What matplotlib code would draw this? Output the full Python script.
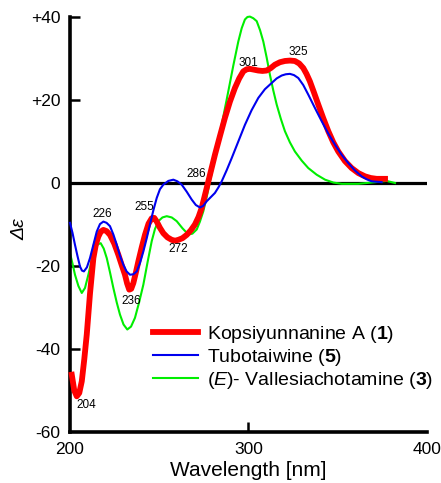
import matplotlib
matplotlib.use("Agg")
import matplotlib.pyplot as plt

plt.rcParams["font.family"] = ["Liberation Sans", "DejaVu Sans"]
plt.rcParams["mathtext.fontset"] = "custom"
plt.rcParams["mathtext.rm"] = "Liberation Sans"
plt.rcParams["mathtext.it"] = "Liberation Sans:italic"
plt.rcParams["mathtext.bf"] = "Liberation Sans:bold"

# Kopsiyunnanine A (1)
red_wl = [201.0, 202.4, 203.8, 205.2, 206.6, 208.0, 209.4, 211.2, 213.1, 214.5,
          215.9, 217.3, 218.7, 220.5, 222.4, 224.8, 227.1, 229.0, 230.8, 232.0,
          233.2, 234.3, 235.5, 236.9, 238.3, 240.2, 242.0, 244.0, 245.8, 247.2,
          248.6, 250.4, 252.3, 254.6, 257.0, 258.9, 260.7, 263.0, 265.4, 267.7,
          270.0, 272.0, 273.8, 276.6, 278.9, 281.2, 284.0, 286.8, 289.6, 292.4,
          294.8, 297.1, 299.0, 300.8, 303.2, 305.5, 307.8, 310.2, 312.5, 314.8,
          317.6, 320.4, 323.2, 326.0, 328.4, 330.7, 332.5, 334.4, 336.7, 339.1,
          341.9, 344.7, 347.5, 350.3, 354.0, 357.8, 361.5, 365.3, 368.5, 371.8,
          376.5]
red_de = [-46.2, -50.0, -51.4, -50.6, -47.8, -42.5, -36.5, -26.7, -18.1, -14.8,
          -12.9, -11.7, -11.3, -11.6, -12.5, -14.6, -17.3, -19.8, -22.1, -24.2,
          -25.7, -25.5, -24.1, -21.6, -18.9, -15.5, -12.5, -9.8, -8.5, -8.4,
          -9.3, -10.8, -12.1, -13.1, -13.7, -13.9, -13.7, -13.3, -12.5, -11.4,
          -10.0, -8.2, -6.0, -1.2, 2.8, 6.8, 11.3, 15.7, 19.6, 22.9,
          25.2, 26.9, 27.4, 27.5, 27.3, 27.1, 27.0, 27.1, 27.7, 28.5,
          29.1, 29.4, 29.5, 29.4, 28.8, 27.7, 26.3, 24.5, 21.8, 18.9,
          15.6, 12.5, 9.8, 7.6, 5.3, 3.6, 2.4, 1.6, 1.2, 1.0,
          1.0]

# Tubotaiwine (5)
blue_wl = [200.0, 201.4, 202.8, 204.2, 205.6, 206.7, 207.8, 209.5, 211.2, 213.1,
           215.0, 216.8, 218.7, 220.5, 222.4, 224.3, 226.2, 228.0, 229.9, 231.7,
           233.6, 235.5, 237.4, 239.2, 241.1, 243.0, 244.8, 246.7, 248.6, 250.4,
           252.3, 255.1, 257.9, 260.2, 262.6, 265.4, 268.2, 270.5, 272.8, 274.7,
           276.6, 278.9, 281.2, 283.1, 285.0, 287.8, 290.6, 294.3, 298.0, 301.7,
           305.5, 309.2, 313.0, 315.8, 318.6, 320.9, 323.2, 325.5, 327.9, 330.7,
           333.5, 337.2, 341.0, 344.7, 348.5, 352.2, 355.9, 359.7, 363.4, 366.2,
           369.0, 374.6]
blue_de = [-9.6, -12.0, -14.9, -17.6, -20.1, -21.1, -21.3, -20.3, -18.1, -14.9,
           -11.7, -9.9, -9.3, -9.6, -10.4, -12.4, -14.9, -17.5, -19.7, -21.3,
           -22.1, -22.0, -21.3, -19.3, -16.5, -13.3, -10.0, -6.6, -3.6, -1.5,
           -0.4, 0.5, 0.8, 0.4, -0.4, -2.1, -4.0, -5.3, -5.9, -5.5,
           -4.4, -3.4, -2.4, -1.1, 0.4, 3.1, 6.0, 10.0, 14.0, 17.5,
           20.5, 22.6, 24.1, 25.2, 25.9, 26.2, 26.3, 26.0, 25.3, 23.6,
           21.3, 18.1, 14.9, 11.9, 9.2, 6.8, 4.8, 3.0, 1.6, 0.9,
           0.4, 0.2]

# (E)-Vallesiachotamine (3)
green_wl = [200.0, 201.4, 202.8, 204.7, 206.6, 208.4, 210.3, 212.1, 214.0, 215.6,
            217.2, 218.9, 220.6, 222.4, 224.3, 226.2, 228.0, 230.0, 232.1, 234.2,
            236.4, 238.7, 241.1, 243.5, 245.8, 247.6, 249.5, 251.8, 254.2, 257.0,
            259.8, 263.0, 266.3, 268.6, 271.0, 272.8, 274.7, 276.6, 278.4, 280.8,
            283.1, 285.9, 288.7, 291.5, 294.3, 296.2, 298.0, 299.4, 300.8, 302.7,
            304.6, 306.5, 308.3, 310.2, 312.0, 313.9, 315.8, 318.1, 320.4, 323.2,
            326.0, 329.8, 333.5, 338.2, 342.9, 347.6, 352.3, 361.5, 370.9, 377.4,
            382.1]
green_de = [-16.9, -19.4, -22.1, -24.8, -26.5, -25.3, -22.1, -18.7, -16.1, -14.8,
            -14.5, -15.8, -18.1, -21.5, -25.3, -28.8, -31.7, -34.1, -35.3, -34.6,
            -32.5, -28.8, -24.5, -19.0, -14.0, -11.1, -9.2, -8.3, -8.0, -8.3,
            -9.2, -10.9, -12.4, -12.2, -11.2, -9.3, -6.8, -3.3, 0.4, 5.2,
            10.0, 16.0, 22.1, 28.3, 34.1, 37.3, 39.4, 40.0, 40.1, 39.7,
            39.0, 36.8, 34.1, 30.2, 26.1, 22.3, 18.9, 15.5, 12.5, 9.8,
            7.6, 5.4, 3.6, 2.0, 0.8, 0.1, -0.2, -0.2, 0.2, 0.5,
            0.0]

labels = ["Kopsiyunnanine A ($\\mathbf{1}$)",
          "Tubotaiwine ($\\mathbf{5}$)",
          "($\\mathit{E}$)- Vallesiachotamine ($\\mathbf{3}$)"]

xticks = [200, 300, 400]
yticks = [-60, -40, -20, 0, 20, 40]
ytick_labels = ["-60", "-40", "-20", "0", "+20", "+40"]

# peak labels: text, x, y
peaks = ["204", "226", "236", "255", "272", "286", "301", "325"]
peak_x = [209.0, 217.9, 234.2, 241.5, 260.5, 270.6, 299.7, 327.7]
peak_y = [-53.5, -7.5, -28.4, -5.8, -15.9, 2.2, 28.9, 31.6]

fig = plt.figure(figsize=(4.41, 4.83), dpi=100)
ax = fig.add_axes([0.1587, 0.1056, 0.8095, 0.8592])

ax.axhline(0, color="black", lw=2.3, zorder=1)
ax.plot(red_wl, red_de, color="#ff0000", lw=4.2, label=labels[0], zorder=3,
        solid_joinstyle="round", clip_on=False)
ax.plot(blue_wl, blue_de, color="#0000ee", lw=1.5, label=labels[1], zorder=4,
        solid_joinstyle="round", clip_on=False)
ax.plot(green_wl, green_de, color="#00ee00", lw=1.5, label=labels[2], zorder=2,
        solid_joinstyle="round", clip_on=False)

for t, x, y in zip(peaks, peak_x, peak_y):
    ax.text(x, y, t, fontsize=8.5, ha="center", va="center", zorder=5)

ax.set_xlim(200, 400)
ax.set_ylim(-60, 40)
for s in ["top", "right"]:
    ax.spines[s].set_visible(False)
for s in ["left", "bottom"]:
    ax.spines[s].set_linewidth(2.6)
ax.set_xticks(xticks)
ax.set_yticks(yticks)
ax.set_yticklabels(ytick_labels)
ax.tick_params(direction="in", length=7, width=1.8, labelsize=12.5, pad=7)
ax.xaxis.get_major_ticks()[0].tick1line.set_visible(False)
ax.xaxis.get_major_ticks()[2].tick1line.set_visible(False)
ax.yaxis.get_major_ticks()[0].tick1line.set_visible(False)

fig.text(0.5635, 0.014, "Wavelength [nm]", fontsize=15, ha="center", va="baseline")
fig.text(0.045, 0.525, "Δε", fontsize=14, style="italic", rotation=90,
         ha="center", va="center")

ax.legend(loc="upper left", bbox_to_anchor=(0.2325, 0.26), frameon=False,
          fontsize=14, handlelength=2.3, handletextpad=0.5, labelspacing=0.1,
          borderpad=0, borderaxespad=0)

fig.savefig("out.png", dpi=100)
